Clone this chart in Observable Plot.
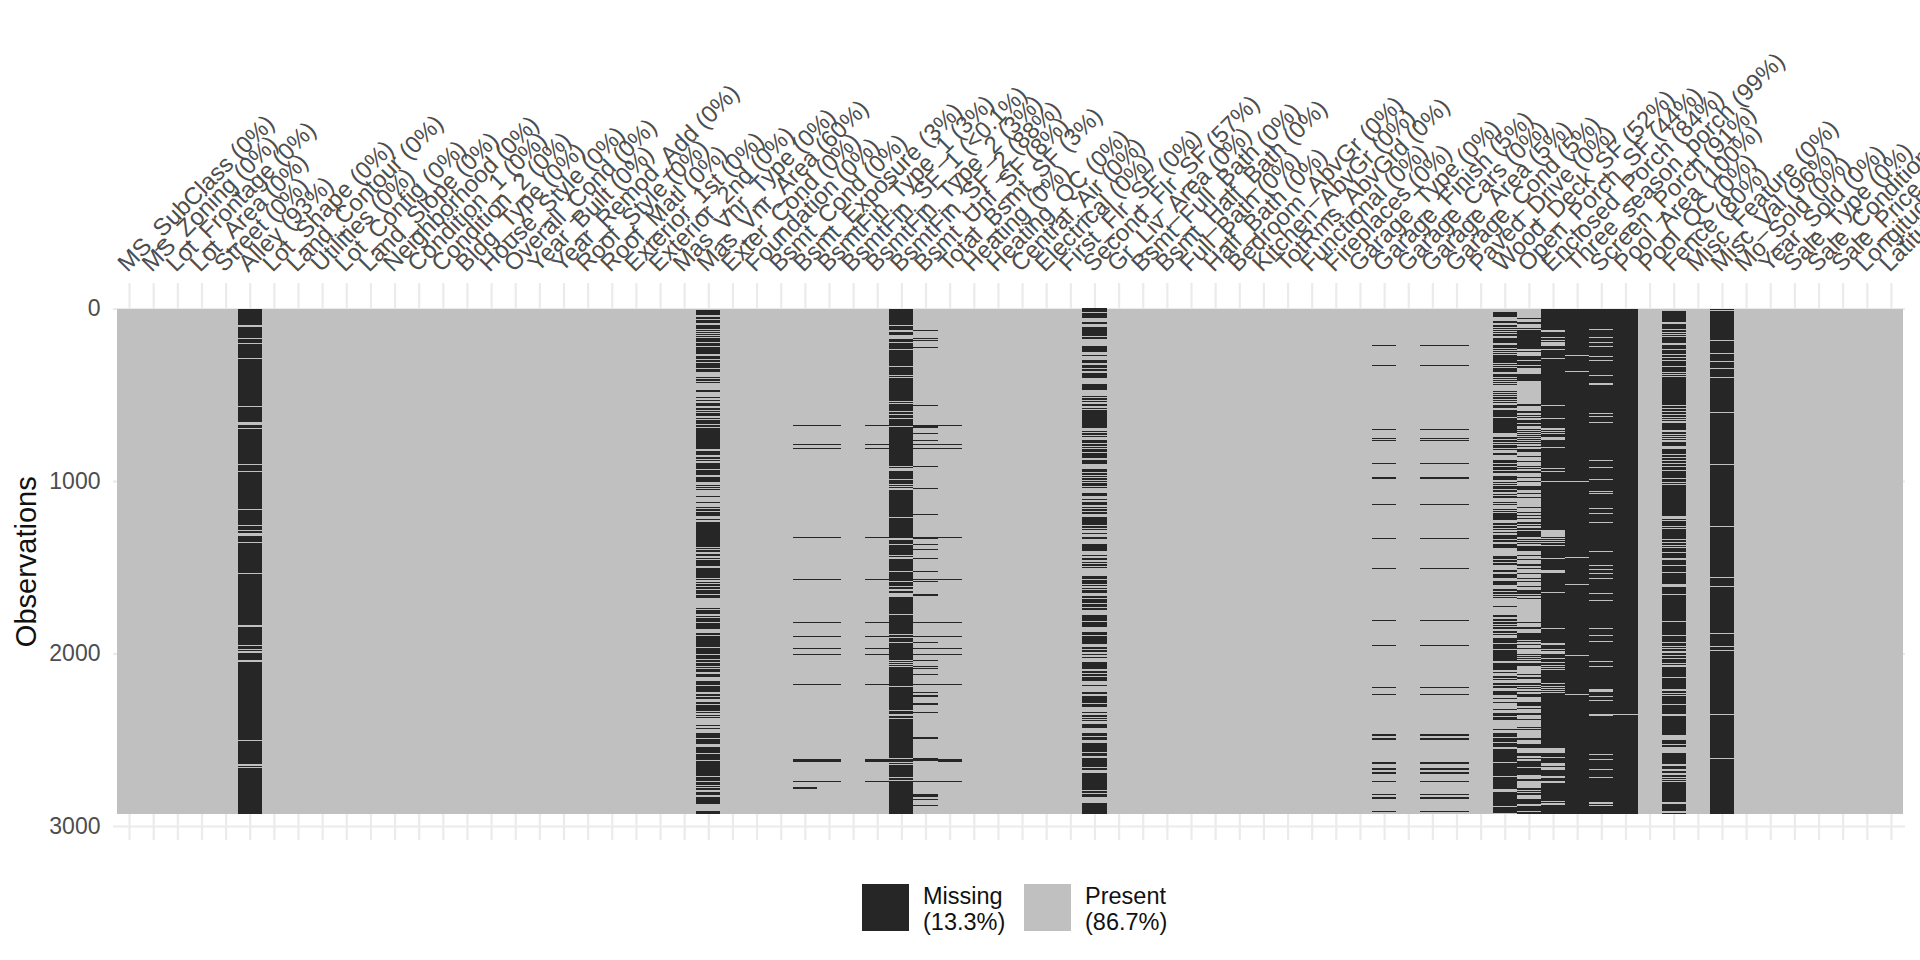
<!DOCTYPE html>
<html>
<head>
<meta charset="utf-8">
<script src="https://cdn.jsdelivr.net/npm/d3@7"></script>
<script src="https://cdn.jsdelivr.net/npm/@observablehq/plot@0.6"></script>
<style>
html,body{margin:0;padding:0;background:#fff;}
#legend{display:flex;height:90px;font:23.5px/26px "Liberation Sans",Arial,sans-serif;color:#111;padding-left:862px;box-sizing:border-box;padding-top:14px;}
.sw{width:47px;height:47px;flex:none;}
.lb{margin:-1px 1px 0 14px;width:100px;white-space:nowrap;}
</style>
</head>
<body>
<div id="chart"></div>
<div id="legend"></div>
<script>
const columns = ["MS_SubClass","MS_Zoning","Lot_Frontage","Lot_Area","Street","Alley","Lot_Shape","Land_Contour","Utilities","Lot_Config","Land_Slope","Neighborhood","Condition_1","Condition_2","Bldg_Type","House_Style","Overall_Cond","Year_Built","Year_Remod_Add","Roof_Style","Roof_Matl","Exterior_1st","Exterior_2nd","Mas_Vnr_Type","Mas_Vnr_Area","Exter_Cond","Foundation","Bsmt_Cond","Bsmt_Exposure","BsmtFin_Type_1","BsmtFin_SF_1","BsmtFin_Type_2","BsmtFin_SF_2","Bsmt_Unf_SF","Total_Bsmt_SF","Heating","Heating_QC","Central_Air","Electrical","First_Flr_SF","Second_Flr_SF","Gr_Liv_Area","Bsmt_Full_Bath","Bsmt_Half_Bath","Full_Bath","Half_Bath","Bedroom_AbvGr","Kitchen_AbvGr","TotRms_AbvGrd","Functional","Fireplaces","Garage_Type","Garage_Finish","Garage_Cars","Garage_Area","Garage_Cond","Paved_Drive","Wood_Deck_SF","Open_Porch_SF","Enclosed_Porch","Three_season_porch","Screen_Porch","Pool_Area","Pool_QC","Fence","Misc_Feature","Misc_Val","Mo_Sold","Year_Sold","Sale_Type","Sale_Condition","Sale_Price","Longitude","Latitude"];
const percents = {Alley:"93%",Mas_Vnr_Area:"60%",Bsmt_Exposure:"3%",BsmtFin_Type_1:"3%",BsmtFin_SF_1:"<0.1%",BsmtFin_Type_2:"3%",BsmtFin_SF_2:"88%",Bsmt_Unf_SF:"8%",Total_Bsmt_SF:"3%",Second_Flr_SF:"57%",Garage_Finish:"5%",Garage_Area:"5%",Garage_Cond:"5%",Wood_Deck_SF:"52%",Open_Porch_SF:"44%",Enclosed_Porch:"84%",Three_season_porch:"99%",Screen_Porch:"91%",Pool_Area:"100%",Fence:"80%",Misc_Val:"96%"};
const rowCount = 2930;
const yTicks = [0,1000,2000,3000];
const statuses = ["Missing","Present"];
const legendShares = ["13.3%","86.7%"];

// [first row, last row] of the bands
const alleyPresent = [[98,104],[174,178],[203,207],[290,293],[567,573],[660,672],[695,699],[901,905],[944,948],[1164,1168],[1255,1259],[1287,1291],[1301,1305],[1310,1318],[1353,1359],[1532,1538],[1835,1843],[1951,1955],[1976,1980],[1988,1994],[2038,2046],[2192,2196],[2505,2509],[2604,2607],[2642,2652],[2658,2665]];
const masVnrMissing = [[10,39],[52,60],[68,85],[97,120],[125,131],[137,143],[149,154],[160,166],[172,193],[201,216],[224,261],[276,293],[301,311],[318,345],[351,369],[400,405],[411,419],[425,430],[473,486],[513,521],[533,538],[546,552],[556,562],[577,589],[594,600],[608,621],[635,641],[647,670],[677,689],[693,814],[826,849],[863,869],[878,884],[896,928],[936,963],[975,1004],[1025,1031],[1036,1042],[1048,1052],[1087,1092],[1121,1127],[1152,1158],[1164,1173],[1179,1204],[1222,1226],[1237,1382],[1388,1395],[1401,1411],[1422,1434],[1446,1451],[1457,1467],[1473,1478],[1484,1492],[1503,1563],[1571,1575],[1586,1592],[1598,1608],[1617,1623],[1631,1652],[1660,1677],[1735,1741],[1747,1772],[1781,1787],[1793,1816],[1826,1832],[1837,1843],[1849,1855],[1880,1891],[1897,1961],[1967,2001],[2007,2030],[2036,2048],[2055,2071],[2079,2082],[2088,2106],[2117,2135],[2158,2181],[2187,2221],[2233,2245],[2250,2262],[2279,2291],[2302,2331],[2337,2345],[2355,2360],[2366,2374],[2413,2420],[2432,2438],[2459,2488],[2494,2523],[2540,2557],[2563,2575],[2586,2615],[2621,2696],[2702,2708],[2714,2737],[2743,2760],[2766,2771],[2783,2789],[2806,2818],[2835,2870],[2911,2930]];
const bsmtMissing = [[675,680],[785,790],[808,813],[1324,1329],[1567,1572],[1816,1821],[1897,1902],[1966,1971],[2001,2006],[2175,2180],[2615,2626],[2742,2747]];
const bsmtExposureExtra = [[2777,2782]];
const finSf2Present = [[97,100],[125,137],[154,176],[195,201],[235,239],[336,340],[386,390],[396,401],[537,540],[548,552],[594,598],[612,616],[637,641],[679,687],[913,919],[928,940],[988,992],[1017,1021],[1029,1033],[1040,1052],[1208,1212],[1332,1339],[1365,1370],[1428,1434],[1444,1449],[1521,1525],[1579,1583],[1610,1613],[1629,1635],[1652,1669],[1770,1776],[1886,1891],[1903,1909],[1932,1936],[2036,2040],[2050,2054],[2063,2067],[2073,2077],[2082,2086],[2117,2121],[2187,2191],[2221,2225],[2326,2330],[2351,2355],[2360,2364],[2372,2378],[2517,2520],[2569,2573],[2609,2613],[2629,2633],[2642,2648],[2708,2712],[2719,2723],[2735,2741]];
const bsmtUnfMissing = [[125,130],[172,177],[181,186],[224,229],[559,564],[677,693],[721,726],[762,767],[785,790],[808,813],[912,917],[1040,1045],[1190,1195],[1326,1336],[1364,1369],[1393,1398],[1445,1450],[1520,1525],[1567,1572],[1578,1583],[1654,1666],[1816,1821],[1897,1902],[1932,1937],[1966,1971],[2001,2006],[2036,2041],[2071,2076],[2082,2087],[2117,2122],[2175,2180],[2221,2226],[2244,2249],[2290,2295],[2337,2347],[2482,2494],[2609,2625],[2737,2746],[2818,2829],[2846,2851],[2881,2886]];
const secondFlrMissing = [[0,6],[12,17],[27,56],[79,91],[108,160],[166,178],[218,253],[270,276],[299,318],[330,342],[349,361],[372,403],[438,473],[508,515],[521,529],[537,542],[554,565],[577,583],[589,693],[710,716],[722,730],[739,745],[762,780],[785,795],[803,809],[816,832],[840,867],[878,901],[930,948],[953,965],[971,977],[982,994],[1000,1006],[1011,1029],[1034,1040],[1069,1087],[1104,1110],[1121,1139],[1150,1156],[1164,1173],[1179,1191],[1208,1255],[1260,1272],[1278,1283],[1301,1307],[1324,1336],[1365,1405],[1428,1434],[1446,1457],[1469,1475],[1480,1492],[1498,1503],[1550,1567],[1573,1596],[1602,1608],[1619,1625],[1631,1648],[1666,1677],[1683,1706],[1712,1729],[1735,1747],[1776,1810],[1816,1845],[1874,1891],[1897,1944],[1961,1972],[1978,1990],[2001,2007],[2019,2025],[2048,2088],[2100,2111],[2117,2129],[2135,2158],[2181,2187],[2221,2233],[2245,2285],[2291,2308],[2337,2343],[2360,2366],[2372,2378],[2384,2389],[2407,2413],[2418,2430],[2459,2467],[2470,2476],[2482,2499],[2517,2523],[2528,2546],[2551,2569],[2575,2592],[2609,2638],[2644,2656],[2667,2673],[2691,2696],[2702,2748],[2754,2777],[2783,2789],[2800,2806],[2818,2829],[2870,2876],[2881,2916],[2922,2928]];
const garageMissing = [[212,217],[328,333],[698,703],[750,755],[761,766],[895,900],[977,988],[1133,1138],[1329,1334],[1503,1508],[1804,1809],[1949,1954],[2192,2197],[2233,2238],[2470,2475],[2493,2498],[2632,2637],[2667,2672],[2690,2695],[2742,2747],[2817,2822],[2835,2840],[2916,2921]];
const woodDeckMissing = [[21,29],[35,46],[73,85],[97,108],[114,120],[125,131],[137,143],[149,158],[172,201],[212,228],[235,241],[247,253],[259,264],[270,315],[322,328],[334,340],[345,353],[357,369],[380,396],[403,409],[415,421],[427,432],[438,444],[479,486],[490,496],[502,508],[513,525],[531,537],[542,548],[560,577],[589,629],[635,722],[745,757],[762,774],[780,786],[791,809],[814,820],[838,849],[878,896],[901,913],[919,936],[942,953],[971,994],[1006,1011],[1017,1023],[1029,1046],[1052,1063],[1075,1081],[1087,1098],[1121,1127],[1133,1139],[1162,1168],[1173,1179],[1185,1226],[1243,1255],[1260,1272],[1278,1283],[1295,1301],[1312,1336],[1341,1353],[1365,1388],[1434,1451],[1457,1469],[1475,1486],[1515,1527],[1538,1561],[1579,1602],[1625,1637],[1642,1654],[1660,1666],[1671,1677],[1723,1729],[1776,1787],[1799,1810],[1816,1828],[1834,1839],[1845,1857],[1868,1880],[1886,1891],[1909,1938],[1944,1972],[1978,2042],[2054,2094],[2106,2111],[2129,2140],[2146,2152],[2169,2181],[2187,2198],[2216,2239],[2256,2262],[2279,2285],[2320,2326],[2343,2360],[2366,2384],[2436,2442],[2459,2482],[2488,2494],[2499,2511],[2517,2523],[2528,2540],[2557,2575],[2580,2604],[2609,2627],[2638,2708],[2714,2726],[2731,2743],[2748,2754],[2760,2783],[2806,2881],[2893,2899],[2905,2922]];
const openPorchMissing = [[56,62],[79,91],[114,120],[125,235],[249,253],[276,299],[305,328],[334,345],[380,421],[554,565],[594,606],[618,623],[629,635],[647,664],[672,679],[699,704],[710,716],[722,728],[733,739],[745,751],[757,762],[768,774],[780,786],[797,803],[814,832],[855,861],[884,890],[913,919],[924,930],[942,953],[977,982],[1000,1006],[1029,1052],[1069,1075],[1092,1098],[1150,1156],[1179,1185],[1197,1202],[1214,1220],[1237,1249],[1255,1260],[1272,1283],[1289,1324],[1336,1341],[1347,1353],[1359,1365],[1376,1405],[1428,1434],[1451,1457],[1480,1492],[1503,1509],[1532,1538],[1561,1567],[1579,1585],[1608,1613],[1631,1654],[1660,1666],[1677,1683],[1816,1822],[1845,1857],[1880,1920],[1926,1932],[1944,1949],[1967,1972],[2001,2007],[2013,2019],[2025,2030],[2036,2042],[2054,2071],[2117,2123],[2135,2146],[2169,2181],[2187,2192],[2198,2204],[2216,2221],[2233,2250],[2279,2302],[2314,2320],[2343,2355],[2378,2384],[2424,2430],[2436,2442],[2488,2499],[2528,2546],[2575,2592],[2604,2609],[2621,2627],[2632,2656],[2667,2702],[2726,2737],[2783,2789],[2795,2800],[2812,2818],[2847,2870],[2887,2911],[2922,2930]];
const enclosedPresent = [[125,137],[166,172],[183,189],[195,218],[237,241],[290,293],[560,564],[635,641],[693,704],[710,716],[722,728],[745,762],[803,809],[924,930],[942,946],[1000,1004],[1283,1324],[1330,1336],[1341,1347],[1353,1359],[1370,1376],[1446,1451],[1515,1532],[1642,1648],[1851,1857],[1938,1949],[1972,1978],[1984,2001],[2025,2030],[2048,2054],[2065,2071],[2077,2082],[2088,2094],[2169,2175],[2187,2192],[2198,2204],[2210,2216],[2221,2227],[2546,2551],[2557,2575],[2598,2604],[2638,2650],[2656,2662],[2667,2673],[2708,2719],[2737,2748],[2853,2858],[2870,2876]];
const threeSeasonPresent = [[270,274],[363,367],[1000,1004],[1440,1444],[1596,1600],[1914,1918],[2007,2011],[2233,2237]];
const screenPresent = [[120,124],[166,170],[195,199],[218,222],[276,280],[299,303],[386,390],[432,444],[606,610],[623,627],[658,662],[878,882],[919,923],[988,992],[1058,1062],[1069,1073],[1156,1160],[1185,1189],[1237,1241],[1405,1409],[1486,1490],[1509,1513],[1532,1536],[1561,1565],[1648,1652],[1689,1693],[1851,1855],[1891,1895],[1926,1930],[1943,1947],[2042,2046],[2071,2075],[2111,2115],[2169,2173],[2206,2221],[2245,2249],[2273,2277],[2351,2360],[2372,2376],[2586,2590],[2615,2619],[2673,2677],[2719,2723],[2860,2870],[2881,2885]];
const poolAreaPresent = [[2088,2092],[2349,2353],[2569,2573]];
const fencePresent = [[6,14],[79,91],[120,125],[139,143],[151,154],[160,166],[201,212],[235,241],[264,270],[282,288],[299,305],[332,338],[369,374],[380,386],[392,398],[560,565],[577,583],[594,600],[612,618],[629,635],[641,647],[652,664],[704,716],[728,733],[739,745],[751,757],[762,774],[797,814],[843,849],[861,867],[878,884],[896,901],[913,919],[936,942],[982,988],[1006,1011],[1017,1023],[1202,1220],[1226,1231],[1260,1266],[1272,1278],[1336,1341],[1353,1359],[1370,1376],[1382,1388],[1411,1417],[1446,1457],[1486,1492],[1527,1532],[1596,1613],[1654,1660],[1810,1816],[1891,1897],[1932,1938],[1955,1961],[1967,1972],[1984,1996],[2007,2013],[2025,2030],[2054,2059],[2065,2077],[2135,2140],[2204,2216],[2227,2233],[2239,2245],[2291,2297],[2349,2360],[2476,2499],[2523,2528],[2540,2546],[2551,2575],[2644,2650],[2673,2679],[2696,2702],[2714,2719],[2726,2731],[2737,2743],[2864,2870],[2916,2922]];
const miscValPresent = [[8,12],[183,187],[259,263],[305,309],[345,349],[398,402],[600,604],[901,905],[1260,1264],[1556,1560],[1608,1612],[1880,1884],[1955,1959],[1978,1982],[2349,2353],[2604,2608]];

// which band list belongs to which column; a column is otherwise wholly Present or wholly Missing
const missingBands = {Mas_Vnr_Area:masVnrMissing,Bsmt_Exposure:[...bsmtMissing,...bsmtExposureExtra],BsmtFin_Type_1:bsmtMissing,BsmtFin_Type_2:bsmtMissing,Bsmt_Unf_SF:bsmtUnfMissing,Total_Bsmt_SF:bsmtMissing,Second_Flr_SF:secondFlrMissing,Garage_Finish:garageMissing,Garage_Area:garageMissing,Garage_Cond:garageMissing,Wood_Deck_SF:woodDeckMissing,Open_Porch_SF:openPorchMissing};
const presentBands = {Alley:alleyPresent,BsmtFin_SF_2:finSf2Present,Enclosed_Porch:enclosedPresent,Three_season_porch:threeSeasonPresent,Screen_Porch:screenPresent,Pool_Area:poolAreaPresent,Fence:fencePresent,Misc_Val:miscValPresent};

const baseRows = columns.map(c => ({col:c, y1:0, y2:rowCount, status: presentBands[c] ? "Missing" : "Present"}));
const bandRows = [];
for (const [c,list] of Object.entries(missingBands)) for (const [a,b] of list) bandRows.push({col:c,y1:a,y2:b,status:"Missing"});
for (const [c,list] of Object.entries(presentBands)) for (const [a,b] of list) bandRows.push({col:c,y1:a,y2:b,status:"Present"});

const font = '"Liberation Sans",Arial,Helvetica,sans-serif';
const gridColor = "#ebebeb";
const plot = Plot.plot({
  width:1920, height:870,
  marginLeft:117, marginRight:17, marginTop:308.5, marginBottom:44,
  style:{fontFamily:font, background:"#fff"},
  x:{type:"band", domain:columns, padding:0, round:false, axis:null},
  y:{domain:[0,3000], reverse:true, axis:null},
  color:{domain:statuses, range:["#262626","#c0c0c0"]},
  marks:[
    Plot.ruleX(columns,{x:d=>d,y1:()=>0,y2:()=>3000,stroke:gridColor,strokeWidth:2.2,insetTop:-25.5,insetBottom:-14}),
    Plot.ruleY(yTicks,{y:d=>d,stroke:gridColor,strokeWidth:2.2,insetLeft:-4,insetRight:-2}),
    Plot.barY(baseRows,{x:"col",y1:"y1",y2:"y2",fill:"status",shapeRendering:"crispEdges"}),
    Plot.barY(bandRows,{x:"col",y1:"y1",y2:"y2",fill:"status",insetTop:-0.12,insetBottom:-0.12,shapeRendering:"crispEdges"}),
    Plot.axisY({ticks:yTicks,tickSize:0,tickPadding:17,fontSize:23,color:"#4d4d4d",label:null,tickFormat:d=>String(d)}),
    Plot.text(columns,{x:d=>d,y:()=>0,text:d=>`${d} (${percents[d]||"0%"})`,rotate:-45,textAnchor:"start",lineAnchor:"bottom",dy:-36,dx:-2,fontSize:24,fill:"#4d4d4d"}),
    Plot.text(["Observations"],{frameAnchor:"left",rotate:-90,textAnchor:"middle",dx:-91,dy:-6,fontSize:29,fill:"#111"})
  ]
});
document.getElementById("chart").appendChild(plot);
plot.style.display="block";

const legend = document.getElementById("legend");
const swatchColors = {Missing:"#262626",Present:"#c0c0c0"};
statuses.forEach((s,i)=>{
  const sw=document.createElement("div");sw.className="sw";sw.style.background=swatchColors[s];
  const lb=document.createElement("div");lb.className="lb";lb.innerHTML=`${s}<br>(${legendShares[i]})`;
  legend.append(sw,lb);
});
</script>
</body>
</html>
